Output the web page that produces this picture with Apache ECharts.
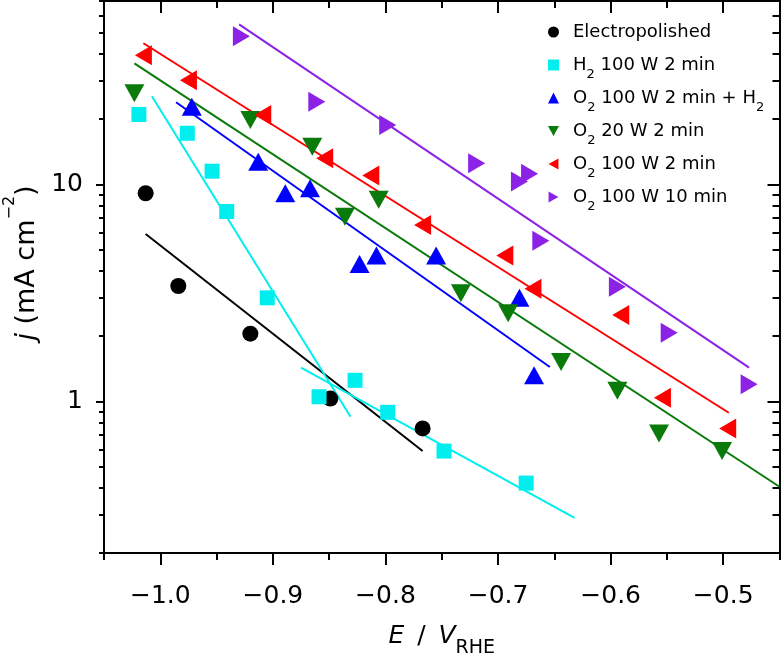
<!DOCTYPE html>
<html>
<head>
<meta charset="utf-8">
<script src="https://cdn.jsdelivr.net/npm/echarts@6/dist/echarts.min.js"></script>
<style>html,body{margin:0;padding:0;background:#fff;}#c{width:781px;height:659px;}</style>
</head>
<body>
<div id="c"></div>
<script>
// ---- data ----
const xMajorTicks = [-1.0, -0.9, -0.8, -0.7, -0.6, -0.5];
const xMinorTicks = [-1.05, -1.0, -0.95, -0.9, -0.85, -0.8, -0.75, -0.7, -0.65, -0.6, -0.55, -0.5, -0.45];
const yMajorTicks = [1, 10];
const yMinorTicks = [0.2, 0.3, 0.4, 0.5, 0.6, 0.7, 0.8, 0.9, 2, 3, 4, 5, 6, 7, 8, 9, 20, 30, 40, 50, 60, 70];

const seriesNames = ['Electropolished', 'H2 100 W 2 min', 'O2 100 W 2 min + H2', 'O2 20 W 2 min', 'O2 100 W 2 min', 'O2 100 W 10 min'];

const epE = [-1.013, -0.984, -0.920, -0.849, -0.767];
const epJ = [9.1, 3.4, 2.05, 1.03, 0.75];

const h2E = [-1.019, -0.976, -0.954, -0.941, -0.905, -0.859, -0.827, -0.798, -0.748, -0.675];
const h2J = [21, 17.2, 11.5, 7.5, 3.0, 1.05, 1.25, 0.89, 0.59, 0.42];

const o2h2E = [-0.972, -0.913, -0.889, -0.867, -0.823, -0.808, -0.755, -0.681, -0.668];
const o2h2J = [22.8, 12.7, 9.1, 9.6, 4.3, 4.7, 4.7, 3.0, 1.32];

const o220E = [-1.023, -0.920, -0.865, -0.836, -0.806, -0.733, -0.691, -0.644, -0.594, -0.557, -0.501];
const o220J = [26.3, 19.8, 14.9, 7.1, 8.5, 3.15, 2.55, 1.52, 1.12, 0.71, 0.59];

const o2100E = [-1.015, -0.975, -0.909, -0.854, -0.813, -0.767, -0.694, -0.669, -0.591, -0.554, -0.496];
const o2100J = [39.4, 30.2, 20.9, 13.2, 11.0, 6.5, 4.7, 3.3, 2.5, 1.04, 0.75];

const o210mE = [-0.928, -0.861, -0.798, -0.719, -0.681, -0.672, -0.662, -0.594, -0.548, -0.477];
const o210mJ = [48.2, 24.0, 18.8, 12.5, 10.3, 11.2, 5.5, 3.37, 2.07, 1.2];

// fitted lines: [E, j] end points
const fitEp = [[-1.013, 5.9], [-0.767, 0.59]];
const fitH2a = [[-1.0075, 25.5], [-0.831, 0.85]];
const fitH2b = [[-0.875, 1.43], [-0.632, 0.29]];
const fitO2H2 = [[-0.986, 23.9], [-0.654, 1.44]];
const fitO220 = [[-1.023, 36.1], [-0.45, 0.404]];
const fitO2100 = [[-1.015, 44.7], [-0.495, 0.886]];
const fitO210m = [[-0.930, 54.6], [-0.477, 1.43]];

// ---- chart ----
const FONT = 'DejaVu Sans, Verdana, sans-serif';
const colors = ['#000000', '#00eeee', '#0000ff', '#0a7a0a', '#ff0000', '#8b22e6'];
const symbols = ['circle', 'rect', 'triangle', 'path://M0,0L10,0L5,9Z', 'path://M9,0L9,10L0,5Z', 'path://M0,0L9,5L0,10Z'];
const sizes = [16, 15, [20, 18], [20, 18], [17, 20], [17, 20]];
const Es = [epE, h2E, o2h2E, o220E, o2100E, o210mE];
const Js = [epJ, h2J, o2h2J, o220J, o2100J, o210mJ];
const fits = [[fitEp, 0], [fitH2a, 1], [fitH2b, 1], [fitO2H2, 2], [fitO220, 3], [fitO2100, 4], [fitO210m, 5]];

const legendRich = {
  'Electropolished': '{n|Electropolished}{sub| }',
  'H2 100 W 2 min': '{n|H}{sub|2}{n| 100 W 2 min}',
  'O2 100 W 2 min + H2': '{n|O}{sub|2}{n| 100 W 2 min + H}{sub|2}',
  'O2 20 W 2 min': '{n|O}{sub|2}{n| 20 W 2 min}',
  'O2 100 W 2 min': '{n|O}{sub|2}{n| 100 W 2 min}',
  'O2 100 W 10 min': '{n|O}{sub|2}{n| 100 W 10 min}'
};

const fmtX = v => (v < 0 ? '\u2212' : '') + Math.abs(v).toFixed(1);
const lineStyle = { color: '#000', width: 2 };

function xAx(grid, pos, ticks, len, inside, labels) {
  return {
    type: 'value', gridIndex: grid, min: -1.05, max: -0.45, position: pos,
    axisLine: { show: true, onZero: false, lineStyle },
    axisTick: { show: true, customValues: ticks, length: len, inside, lineStyle },
    axisLabel: labels ? { show: true, customValues: xMajorTicks, formatter: fmtX, fontSize: 25, fontFamily: FONT, color: '#000', margin: 31 } : { show: false },
    splitLine: { show: false }
  };
}
function yAx(grid, pos, ticks, len, inside, labels) {
  return {
    type: 'log', gridIndex: grid, logBase: 10, min: 0.2, max: 70, position: pos,
    axisLine: { show: true, onZero: false, lineStyle },
    axisTick: { show: true, customValues: ticks, length: len, inside, lineStyle },
    axisLabel: labels ? { show: true, customValues: yMajorTicks, formatter: v => String(v), fontSize: 25, fontFamily: FONT, color: '#000', margin: 21 } : { show: false },
    splitLine: { show: false },
    minorTick: { show: false }
  };
}

const x0 = xAx(0, 'bottom', xMajorTicks, 12, false, true);
x0.name = '{i|E}{n|\u2009 / \u2009}{i|V}{sub|RHE}';
x0.nameLocation = 'middle';
x0.nameGap = 61;
x0.nameTextStyle = {
  fontSize: 25, fontFamily: FONT, color: '#000',
  rich: {
    i: { fontSize: 25, fontStyle: 'italic', lineHeight: 44, fontFamily: FONT, color: '#000' },
    n: { fontSize: 25, lineHeight: 44, fontFamily: FONT, color: '#000' },
    sub: { fontSize: 19, lineHeight: 44, verticalAlign: 'top', padding: [25, 0, 0, 0], fontFamily: FONT, color: '#000' }
  }
};
const y0 = yAx(0, 'left', yMajorTicks, 8, false, true);
y0.name = '{i|j}{n| (mA cm}{sup|\u22122}{n|)}';
y0.nameLocation = 'middle';
y0.nameGap = 55;
y0.nameTextStyle = {
  fontSize: 27, fontFamily: FONT, color: '#000', padding: [0, 0, 0, 28],
  rich: {
    i: { fontSize: 27, fontStyle: 'italic', lineHeight: 40, verticalAlign: 'top', padding: [11, 0, 0, 0], fontFamily: FONT, color: '#000' },
    n: { fontSize: 27, lineHeight: 40, verticalAlign: 'top', padding: [11, 0, 0, 0], fontFamily: FONT, color: '#000' },
    sup: { fontSize: 16, lineHeight: 40, verticalAlign: 'top', fontFamily: FONT, color: '#000' }
  }
};

const series = [];
fits.forEach(([pts, ci], k) => {
  series.push({
    name: 'fit' + k, type: 'line', data: pts, symbol: 'none', silent: true, z: 1,
    lineStyle: { color: colors[ci], width: 2 }, xAxisIndex: 0, yAxisIndex: 0
  });
});
seriesNames.forEach((nm, i) => {
  series.push({
    name: nm, type: 'scatter', data: Es[i].map((e, k) => [e, Js[i][k]]),
    symbol: symbols[i], symbolSize: sizes[i], z: 3,
    itemStyle: { color: colors[i], opacity: 1 }, xAxisIndex: 0, yAxisIndex: 0
  });
});

const gridBox = { left: 104, right: 1.5, top: 1, bottom: 106, containLabel: false, outerBoundsMode: 'none' };
const chart = echarts.init(document.getElementById('c'), null, { renderer: 'canvas' });
chart.setOption({
  animation: false,
  backgroundColor: '#fff',
  grid: [Object.assign({}, gridBox), Object.assign({}, gridBox)],
  xAxis: [
    x0,
    xAx(0, 'top', xMajorTicks, 12, true, false),
    xAx(1, 'bottom', xMinorTicks, 7, false, false),
    xAx(1, 'top', xMinorTicks, 7, true, false)
  ],
  yAxis: [
    y0,
    yAx(0, 'right', yMajorTicks, 12, true, false),
    yAx(1, 'left', yMinorTicks, 5, false, false),
    yAx(1, 'right', yMinorTicks, 7, true, false)
  ],
  legend: {
    orient: 'vertical', left: 548, top: 15.5, padding: 0, itemGap: 0, itemWidth: 11, itemHeight: 11,
    selectedMode: false,
    data: seriesNames.map((n, i) => ({ name: n, icon: symbols[i], itemStyle: { color: colors[i] } })),
    formatter: n => legendRich[n],
    textStyle: {
      fontSize: 18, fontFamily: FONT, color: '#000', padding: [0, 0, 0, 9],
      rich: {
        n: { fontSize: 18, lineHeight: 33, fontFamily: FONT, color: '#000' },
        sub: { fontSize: 13, lineHeight: 33, verticalAlign: 'top', padding: [20, 0, 0, 0], fontFamily: FONT, color: '#000' }
      }
    }
  },
  series
});
</script>
</body>
</html>
